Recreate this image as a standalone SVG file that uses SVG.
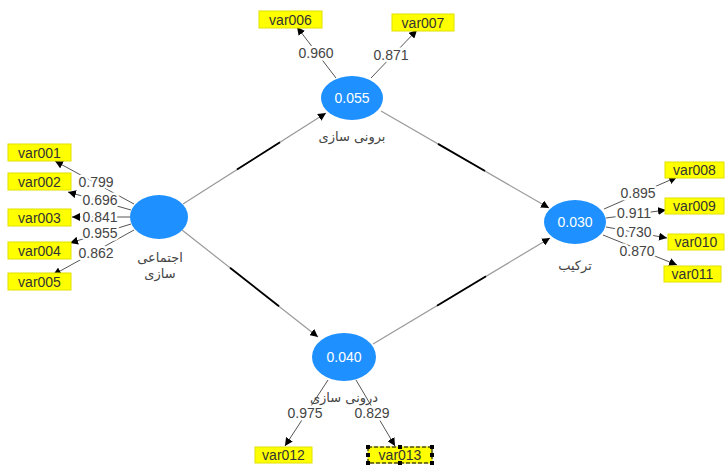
<svg xmlns="http://www.w3.org/2000/svg" width="725" height="465" viewBox="0 0 725 465">
<style>
.bg{fill:#ffffff}
.lv{fill:#1e90ff}
.val{font-family:"Liberation Sans",Arial,sans-serif;font-size:14px;fill:#ffffff;text-anchor:middle;dominant-baseline:central}
.fa{font-family:"DejaVu Sans","Noto Sans",sans-serif;font-size:13px;fill:#444444;text-anchor:middle;dominant-baseline:central}
.box{fill:#ffff00;stroke:#e0e000;stroke-width:1}
.bt{font-family:"Liberation Sans",Arial,sans-serif;font-size:14px;fill:#333333;text-anchor:middle;dominant-baseline:central}
.ld{font-family:"Liberation Sans",Arial,sans-serif;font-size:14px;fill:#444444;text-anchor:middle;dominant-baseline:central;stroke:#ffffff;stroke-width:5;paint-order:stroke;stroke-linejoin:round}
.ind{stroke:#555555;stroke-width:1;fill:none;marker-end:url(#ah)}
.path{stroke:#999999;stroke-width:1.2;fill:none;marker-end:url(#ah)}
.mid{stroke:#000000;stroke-width:1.8;fill:none}
.sel{fill:none;stroke:#000000;stroke-width:1;stroke-dasharray:4 2}
.hd{fill:#000000}
</style>
<defs>
<marker id="ah" viewBox="0 0 10 10" refX="10" refY="5" markerWidth="8" markerHeight="8" markerUnits="userSpaceOnUse" orient="auto">
<path d="M0,0 L10,5 L0,10 z" fill="#000000"/>
</marker>
</defs>
<rect class="bg" x="0" y="0" width="725" height="465"/>

<g id="connectors">
<!-- structural paths -->
<line class="path" x1="183" y1="204" x2="326" y2="113"/>
<line class="mid" x1="237" y1="169.6" x2="280" y2="142.3"/>
<line class="path" x1="381" y1="111" x2="549" y2="208"/>
<line class="mid" x1="438" y1="143.9" x2="485" y2="171"/>
<line class="path" x1="182" y1="230" x2="318" y2="337"/>
<line class="mid" x1="230" y1="267.8" x2="279" y2="306.3"/>
<line class="path" x1="373" y1="344" x2="550" y2="238"/>
<line class="mid" x1="437" y1="305.7" x2="486" y2="276.3"/>
<!-- indicator arrows -->
<line class="ind" x1="134" y1="204" x2="55" y2="161"/>
<line class="ind" x1="131" y1="210" x2="68" y2="192"/>
<line class="ind" x1="130" y1="217" x2="72" y2="217"/>
<line class="ind" x1="131" y1="224" x2="70" y2="243"/>
<line class="ind" x1="134" y1="230" x2="53" y2="275"/>
<line class="ind" x1="336" y1="78" x2="297" y2="27"/>
<line class="ind" x1="371" y1="78" x2="417" y2="30"/>
<line class="ind" x1="604" y1="209" x2="677" y2="177"/>
<line class="ind" x1="606" y1="218" x2="666" y2="210"/>
<line class="ind" x1="606" y1="227" x2="667" y2="238"/>
<line class="ind" x1="603" y1="235" x2="677" y2="265"/>
<line class="ind" x1="328" y1="380" x2="285" y2="446"/>
<line class="ind" x1="356" y1="380" x2="395" y2="446"/>
<!-- loadings -->
<text class="ld" x="96" y="182">0.799</text>
<text class="ld" x="100" y="200">0.696</text>
<text class="ld" x="100" y="217">0.841</text>
<text class="ld" x="100" y="233">0.955</text>
<text class="ld" x="96" y="253">0.862</text>
<text class="ld" x="316" y="53">0.960</text>
<text class="ld" x="391" y="55">0.871</text>
<text class="ld" x="638" y="193">0.895</text>
<text class="ld" x="634" y="213">0.911</text>
<text class="ld" x="634" y="232">0.730</text>
<text class="ld" x="637" y="251">0.870</text>
<text class="ld" x="305" y="413">0.975</text>
<text class="ld" x="372" y="413">0.829</text>
</g>

<g id="n-ejtemai">
<ellipse class="lv" cx="159" cy="217" rx="29" ry="22"/>
<text class="fa" x="160" y="257">اجتماعی</text>
<text class="fa" x="160" y="273">سازی</text>
</g>
<g id="n-boruni">
<ellipse class="lv" cx="352" cy="98" rx="31" ry="22"/>
<text class="val" x="352" y="98">0.055</text>
<text class="fa" x="352" y="136">برونی سازی</text>
</g>
<g id="n-tarkib">
<ellipse class="lv" cx="575" cy="222" rx="31" ry="22"/>
<text class="val" x="575" y="222">0.030</text>
<text class="fa" x="575" y="265">ترکیب</text>
</g>
<g id="n-daruni">
<ellipse class="lv" cx="344" cy="357" rx="32" ry="24"/>
<text class="val" x="344" y="357">0.040</text>
<text class="fa" x="344" y="397">درونی سازی</text>
</g>

<g id="var001"><rect class="box" x="8" y="144" width="63" height="17"/><text class="bt" x="39.5" y="152.5">var001</text></g>
<g id="var002"><rect class="box" x="8" y="173" width="63" height="17"/><text class="bt" x="39.5" y="181.5">var002</text></g>
<g id="var003"><rect class="box" x="8" y="209" width="63" height="17"/><text class="bt" x="39.5" y="217.5">var003</text></g>
<g id="var004"><rect class="box" x="8" y="242" width="63" height="17"/><text class="bt" x="39.5" y="250.5">var004</text></g>
<g id="var005"><rect class="box" x="8" y="273" width="63" height="17"/><text class="bt" x="39.5" y="281.5">var005</text></g>
<g id="var006"><rect class="box" x="259" y="11" width="63" height="17"/><text class="bt" x="290.5" y="19.5">var006</text></g>
<g id="var007"><rect class="box" x="392" y="14" width="62" height="17"/><text class="bt" x="423" y="22.5">var007</text></g>
<g id="var008"><rect class="box" x="665" y="162" width="59" height="16"/><text class="bt" x="694.5" y="170">var008</text></g>
<g id="var009"><rect class="box" x="665" y="198" width="59" height="16"/><text class="bt" x="694.5" y="206">var009</text></g>
<g id="var010"><rect class="box" x="668" y="234" width="56" height="16"/><text class="bt" x="696" y="242">var010</text></g>
<g id="var011"><rect class="box" x="664" y="266" width="57" height="16"/><text class="bt" x="692.5" y="274">var011</text></g>
<g id="var012"><rect class="box" x="255" y="447" width="57" height="16"/><text class="bt" x="283.5" y="455">var012</text></g>
<g id="var013">
<rect class="box" x="368" y="447" width="64" height="16"/>
<text class="bt" x="400" y="455">var013</text>
<rect class="sel" x="368" y="447" width="64" height="16"/>
<rect class="hd" x="366" y="445" width="4" height="4"/>
<rect class="hd" x="398" y="445" width="4" height="4"/>
<rect class="hd" x="430" y="445" width="4" height="4"/>
<rect class="hd" x="366" y="453" width="4" height="4"/>
<rect class="hd" x="430" y="453" width="4" height="4"/>
<rect class="hd" x="366" y="461" width="4" height="4"/>
<rect class="hd" x="398" y="461" width="4" height="4"/>
<rect class="hd" x="430" y="461" width="4" height="4"/>
</g>
</svg>
